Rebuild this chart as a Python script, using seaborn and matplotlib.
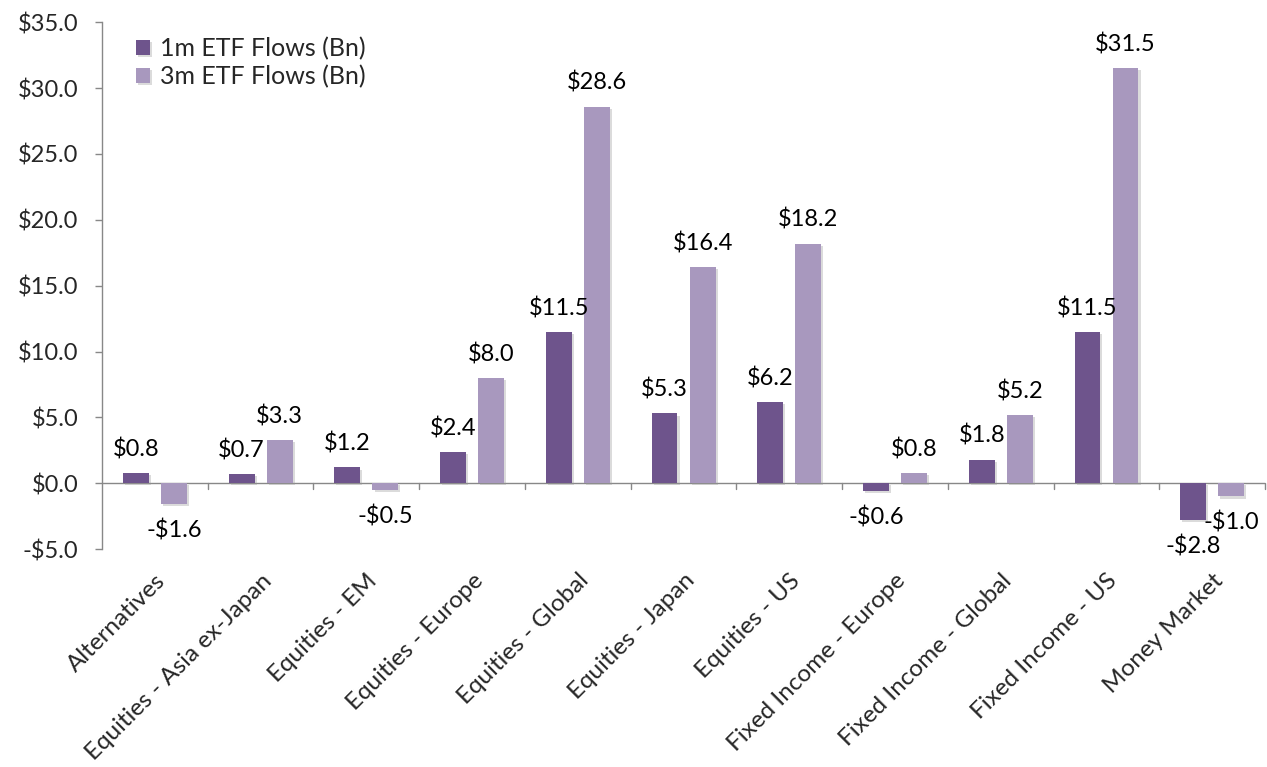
import matplotlib
matplotlib.use("Agg")
import matplotlib.pyplot as plt
import matplotlib.patheffects as pe
import seaborn as sns
import pandas as pd

categories = ["Alternatives", "Equities - Asia ex-Japan", "Equities - EM", "Equities - Europe",
              "Equities - Global", "Equities - Japan", "Equities - US", "Fixed Income - Europe",
              "Fixed Income - Global", "Fixed Income - US", "Money Market"]
flows_1m = [0.8, 0.7, 1.2, 2.4, 11.5, 5.3, 6.2, -0.6, 1.8, 11.5, -2.8]
flows_3m = [-1.6, 3.3, -0.5, 8.0, 28.6, 16.4, 18.2, 0.8, 5.2, 31.5, -1.0]
series_names = ["1m ETF Flows (Bn)", "3m ETF Flows (Bn)"]
colors = ["#6E548C", "#A898BE"]
yticks = [-5, 0, 5, 10, 15, 20, 25, 30, 35]

sns.set_theme(style="white")
plt.rcParams['font.family'] = ['Lato', 'DejaVu Sans']
FS = 17

df = pd.DataFrame({
    "category": categories * 2,
    "value": flows_1m + flows_3m,
    "series": [series_names[0]] * len(categories) + [series_names[1]] * len(categories),
})

fig = plt.figure(figsize=(12.67, 7.67), dpi=100)
ax = fig.add_axes([0.0805, 0.284, 0.918, 0.687])

sns.barplot(data=df, x="category", y="value", hue="series", palette=colors,
            width=0.72, gap=0.32, ax=ax, saturation=1, edgecolor="none", linewidth=0)

shadow = [pe.SimplePatchShadow(offset=(1.5, -1.5), shadow_rgbFace="#999999", alpha=0.35), pe.Normal()]
for p in ax.patches:
    p.set_path_effects(shadow)

for cont in ax.containers:
    for rect in cont:
        h = rect.get_height()
        x = rect.get_x() + rect.get_width() / 2
        if h >= 0:
            ax.annotate(f"${h:.1f}", (x, h), xytext=(0, 17), textcoords="offset points",
                        ha="center", va="center", fontsize=FS, color="black")
        else:
            ax.annotate(f"-${abs(h):.1f}", (x, h), xytext=(0, -19), textcoords="offset points",
                        ha="center", va="center", fontsize=FS, color="black")

ax.set_xlim(-0.5, len(categories) - 0.5)
ax.set_ylim(-5, 35)
ax.set_yticks(yticks)
ax.set_yticklabels([f"${v:.1f}" if v >= 0 else f"-${abs(v):.1f}" for v in yticks], fontsize=FS)
ax.set_xlabel("")
ax.set_ylabel("")

for s in ["top", "right", "bottom"]:
    ax.spines[s].set_visible(False)
ax.spines["left"].set_color("#888888")
ax.spines["left"].set_linewidth(1)
ax.axhline(0, color="#888888", linewidth=1, zorder=0.5)

ax.tick_params(axis="y", left=True, length=5, width=1, color="#888888", pad=12)
ax.tick_params(axis="x", bottom=False, length=0)

# x tick marks at category boundaries on zero line
for b in range(1, len(categories) + 1):
    ax.plot([b - 0.5, b - 0.5], [0, -0.4], color="#888888", linewidth=1, clip_on=False, zorder=0.5)

ax.set_xticks(range(len(categories)))
ax.set_xticklabels(categories, rotation=45, ha="right", va="top", rotation_mode="anchor", fontsize=17.5)
for lbl in ax.get_xticklabels():
    lbl.set_y(-0.03)

leg = ax.legend(loc="upper left", bbox_to_anchor=(0.01, 1.015), frameon=False, fontsize=18,
                handlelength=0.55, handleheight=0.55, handletextpad=0.4, labelspacing=0.2)

fig.savefig("out.png", dpi=100)
